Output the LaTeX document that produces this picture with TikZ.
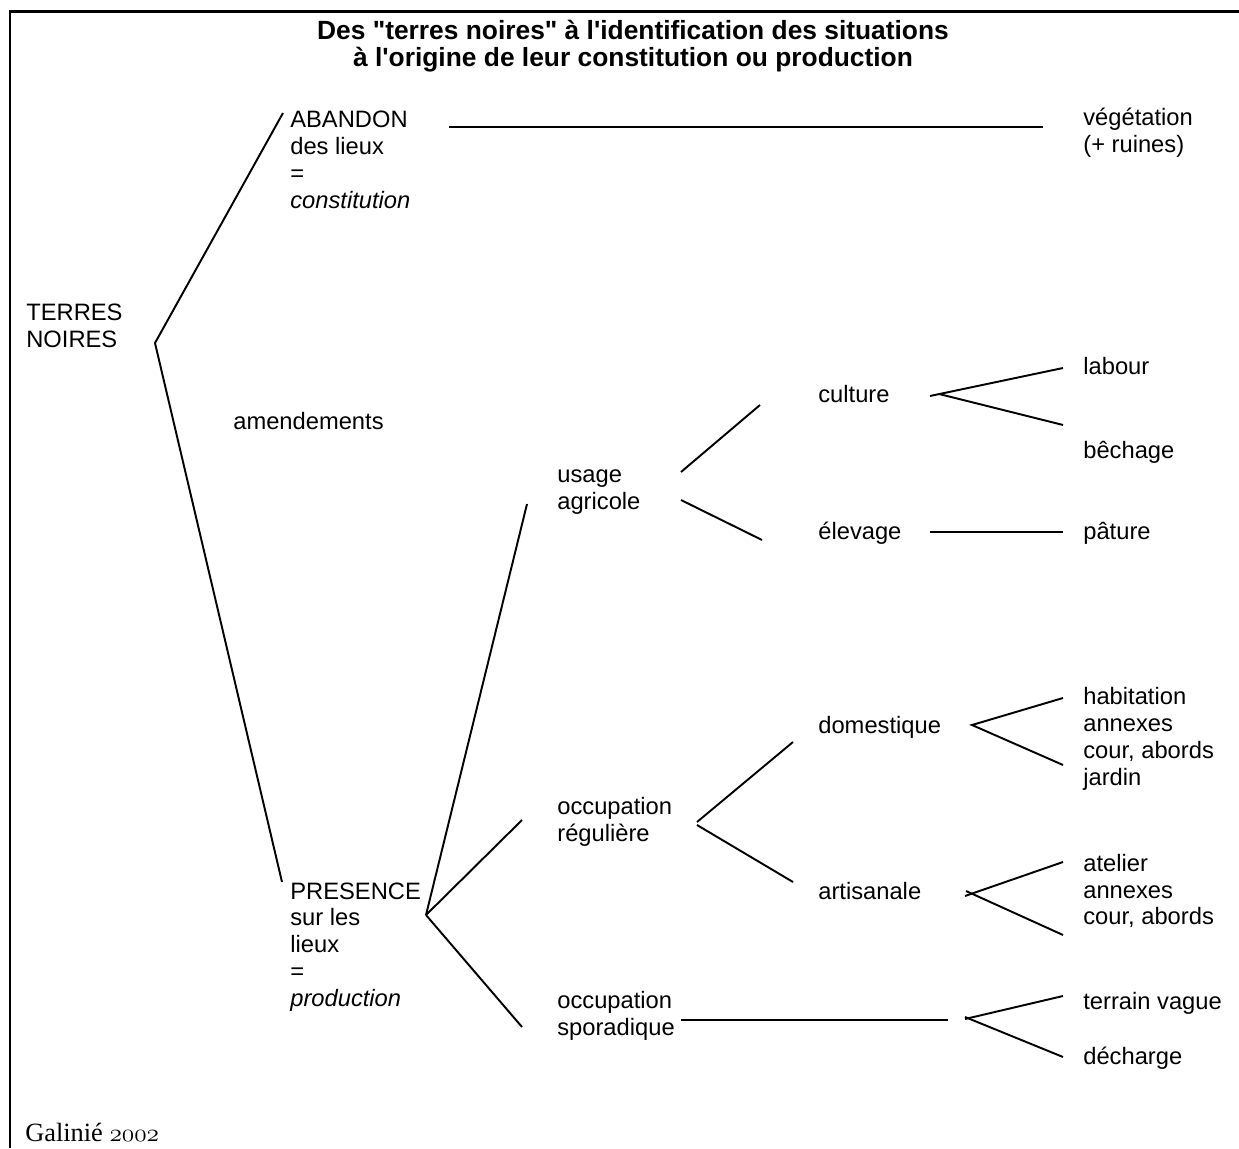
\documentclass[tikz,border=0pt]{standalone}
\usepackage{fontspec}
\setmainfont{Liberation Sans}[Ligatures=TeXOff]
\newfontfamily\serfont{Liberation Serif}
\usetikzlibrary{positioning}
\tikzset{
lbl/.style={anchor=west,align=left,inner sep=0pt,font=\fontsize{13.5}{15.3}\selectfont},
word/.style={anchor=base west,inner sep=0pt,font=\fontsize{13.5}{15.3}\selectfont},
branch/.style={line width=1.1pt},
}

\begin{document}
\begin{tikzpicture}[x=0.02cm,y=-0.02cm]
\useasboundingbox (0,0) rectangle (1239,1148);
\draw[line width=1.7pt] (1239,12) -| (10,1148);

% title
\node[lbl,anchor=center,align=center,font=\bfseries\fontsize{15}{15.3}\selectfont] (title) at (633,46)
  {Des "terres noires" à l'identification des situations\\à l'origine de leur constitution ou production};

% labels
\node[lbl] (terres) at (26,326) {TERRES\\NOIRES};
\node[lbl] (abandon) at (290,160) {ABANDON\\des lieux\\=\\\textit{constitution}};
\node[lbl] (vegetation) at (1083,133) {végétation\\(+ ruines)};
\node[word] (amend) at (233,429) {amendements};
\node[lbl] (presence) at (290,947) {PRESENCE\\sur les\\lieux\\=\\\textit{production}};
\node[lbl] (usage) at (557,492) {usage\\agricole};
\node[word] (culture) at (818,402) {culture};
\node[word] (elevage) at (818,539) {élevage};
\node[word] (labour) at (1083,375) {labour};
\node[word] (bechage) at (1083,458) {bêchage};
\node[word] (pature) at (1083,539) {pâture};
\node[lbl] (reguliere) at (557,822) {occupation\\régulière};
\node[word] (domestique) at (818,733) {domestique};
\node[word] (artisanale) at (818,899) {artisanale};
\node[lbl] (habitat) at (1083,739) {habitation\\annexes\\cour, abords\\jardin};
\node[lbl] (atelier) at (1083,891) {atelier\\annexes\\cour, abords};
\node[lbl] (sporadique) at (557,1016) {occupation\\sporadique};
\node[word] (terrain) at (1083,1009) {terrain vague};
\node[word] (decharge) at (1083,1064) {décharge};
\node[word,font=\serfont\fontsize{15}{16}\selectfont] (source) at (25,1141) {Galinié $\mathnormal{2002}$};

% ends of the branches
\coordinate (jroot) at (155,343);
\coordinate (toabandon) at (283,113);
\coordinate (topresence) at (282,882);
\coordinate (abfrom) at (449,127);
\coordinate (abto) at (1043,127);
\coordinate (jpres) at (426,915);
\coordinate (tousage) at (527,504);
\coordinate (toreg) at (522,820);
\coordinate (tospor) at (522,1027);
\coordinate (juseA) at (681,472);
\coordinate (juseB) at (681,500);
\coordinate (toculture) at (760,405);
\coordinate (toelevage) at (762,540);
\coordinate (jcultA) at (930,396);
\coordinate (jcultB) at (939,394);
\coordinate (tolabour) at (1063,368);
\coordinate (tobechage) at (1063,425);
\coordinate (elfrom) at (930,532);
\coordinate (topature) at (1063,532);
\coordinate (jregA) at (697,822);
\coordinate (jregB) at (697,825);
\coordinate (todom) at (793,742);
\coordinate (toart) at (793,882);
\coordinate (jdom) at (972,725);
\coordinate (tohabA) at (1063,698);
\coordinate (tohabB) at (1063,765);
\coordinate (jartA) at (965,896);
\coordinate (jartB) at (966,891);
\coordinate (toatA) at (1063,862);
\coordinate (toatB) at (1063,935);
\coordinate (spfrom) at (681,1020);
\coordinate (spto) at (948,1020);
\coordinate (spmidA) at (718,1020);
\coordinate (spmidB) at (870,1020);
\coordinate (jspA) at (965,1019);
\coordinate (jspB) at (965,1017);
\coordinate (toterrain) at (1063,996);
\coordinate (todecharge) at (1063,1057);

% branches
\draw[branch] (toabandon) -- (jroot) -- (topresence);
\draw[branch] (abfrom) -- (abto);
\draw[branch] (jpres) -- (tousage);
\draw[branch] (jpres) -- (toreg);
\draw[branch] (jpres) -- (tospor);
\draw[branch] (juseA) -- (toculture);
\draw[branch] (juseB) -- (toelevage);
\draw[branch] (jcultA) -- (tolabour);
\draw[branch] (jcultB) -- (tobechage);
\draw[branch] (elfrom) -- (topature);
\draw[branch] (jregA) -- (todom);
\draw[branch] (jregB) -- (toart);
\draw[branch] (tohabA) -- (jdom) -- (tohabB);
\draw[branch] (jartA) -- (toatA);
\draw[branch] (jartB) -- (toatB);
\draw[branch] (spfrom) -- (spto);
\draw[line width=1.6pt] (spmidA) -- (spmidB);
\draw[branch] (jspA) -- (toterrain);
\draw[branch] (jspB) -- (todecharge);
\end{tikzpicture}
\end{document}
